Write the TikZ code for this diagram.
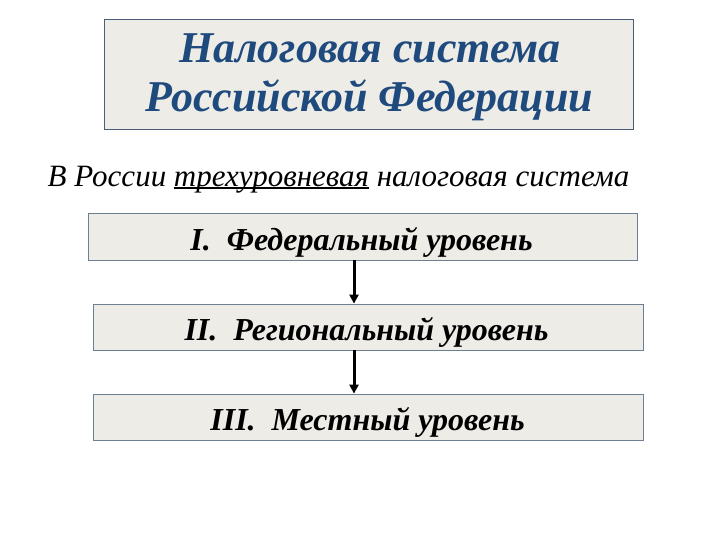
\documentclass[tikz,border=0pt]{standalone}
\usepackage{fontspec}
\setmainfont{Liberation Serif}
\usetikzlibrary{arrows.meta}
\definecolor{boxfill}{HTML}{EEECE6}
\definecolor{titleblue}{HTML}{1F4A7E}
\definecolor{edgeblue}{HTML}{4A5E78}
\newcommand{\thickul}[1]{\setbox0\hbox{#1}\rlap{\rule[-2.5pt]{\wd0}{2pt}}\box0\relax}
\tikzset{
  titlebox/.style={draw=edgeblue, line width=1pt, fill=boxfill},
  levelbox/.style={draw=edgeblue!80, line width=0.8pt, fill=boxfill},
  leveltext/.style={font=\fontsize{32}{36}\selectfont\bfseries\itshape, text=black},
  flow/.style={-{Triangle[length=9pt,width=9pt]}, line width=3pt, black}
}
\begin{document}
\begin{tikzpicture}[x=1pt,y=-1pt]
\useasboundingbox (0,0) rectangle (720,540);
% title box
\node[titlebox, minimum width=529pt, minimum height=110pt, inner sep=0pt] (title) at (368.5,75) {};
\node[text=titleblue, font=\fontsize{44}{48}\selectfont\bfseries\itshape, anchor=base] (tl1) at (370,63) {Налоговая система};
\node[text=titleblue, font=\fontsize{44}{48}\selectfont\bfseries\itshape, anchor=base] (tl2) at (369.5,112) {Российской Федерации};
% subtitle
\node[font=\fontsize{31}{34}\selectfont\itshape, inner sep=0pt, anchor=base] (sub) at (338.5,187)
  {В России \thickul{трехуровневая} налоговая система};
% level boxes
\node[levelbox, minimum width=549pt, minimum height=47pt, inner sep=0pt] (l1) at (362.5,236.5) {};
\node[leveltext, anchor=base] (t1) at (361.5,250) {I.\ \ Федеральный уровень};
\node[levelbox, minimum width=550pt, minimum height=46pt, inner sep=0pt] (l2) at (368,327) {};
\node[leveltext, anchor=base] (t2) at (366.5,340) {II.\ \ Региональный уровень};
\node[levelbox, minimum width=550pt, minimum height=46pt, inner sep=0pt] (l3) at (368,417) {};
\node[leveltext, anchor=base] (t3) at (367.5,430) {III.\ \ Местный уровень};
% arrows
\coordinate (ax) at (354,0);
\draw[flow] (l1.south -| ax) -- (l2.north -| ax);
\draw[flow] (l2.south -| ax) -- (l3.north -| ax);
\end{tikzpicture}
\end{document}
